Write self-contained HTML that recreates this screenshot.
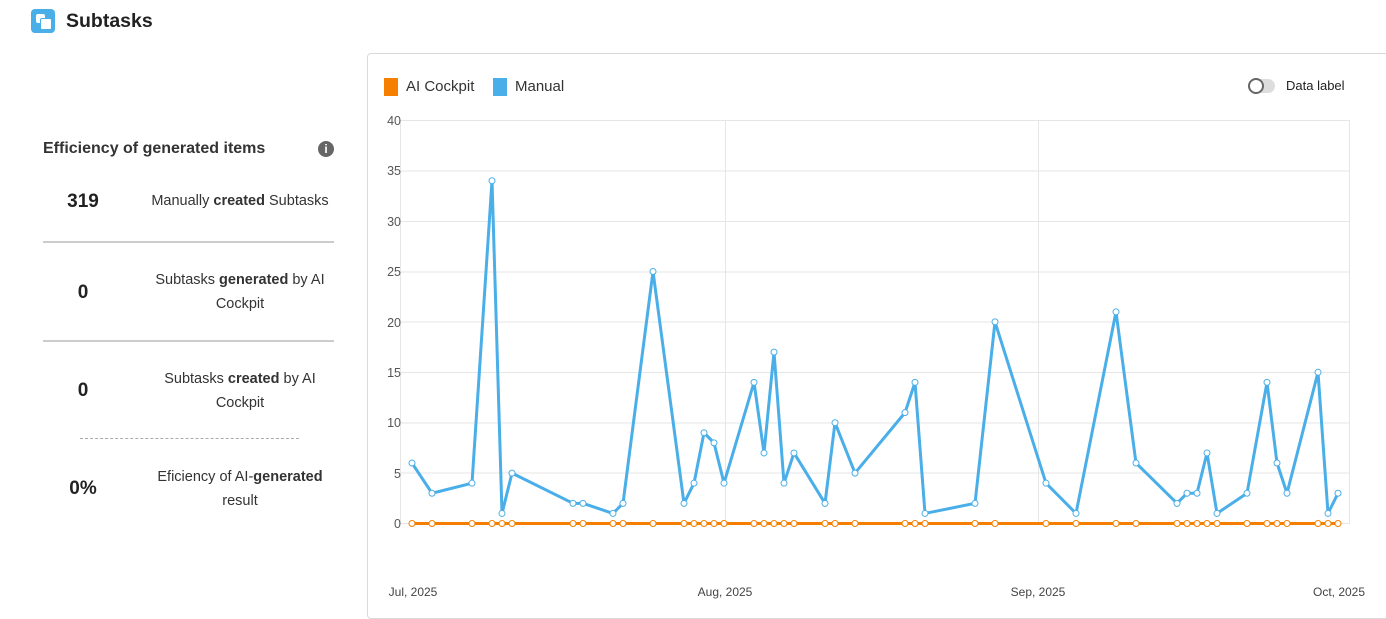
<!DOCTYPE html>
<html><head><meta charset="utf-8"><style>
body{margin:0;width:1386px;height:619px;background:#fff;font-family:"Liberation Sans",sans-serif;position:relative;overflow:hidden;color:#222}
.abs{position:absolute}
.card{left:367px;top:53px;width:1030px;height:564px;border:1px solid #d9d9d9;border-radius:4px}
.num{position:absolute;width:80px;text-align:center;font-size:19px;font-weight:bold;color:#222}
.lbl{position:absolute;width:190px;text-align:center;font-size:14.5px;line-height:24px;color:#333}
.hr{position:absolute;left:43px;width:291px;height:0;border-top:2px solid #ccc}
</style></head><body>
<div class="abs" style="left:31px;top:9px;width:24px;height:24px;background:#4aaee8;border-radius:4px"></div>
<div class="abs" style="left:36px;top:14px;width:9px;height:9px;background:#fff;border-radius:2px"></div>
<div class="abs" style="left:40px;top:18px;width:10px;height:10px;background:#fff;border:1px solid #4aaee8;border-radius:2px"></div>
<div class="abs" style="left:66px;top:10px;font-size:19.5px;font-weight:bold;color:#222">Subtasks</div>

<div class="abs" style="left:43px;top:140px;font-size:16px;font-weight:bold;color:#333">Efficiency of generated items</div>
<div class="abs" style="left:318px;top:141px;width:16px;height:16px;border-radius:50%;background:#666;color:#fff;font-size:12px;font-weight:bold;text-align:center;line-height:16px">i</div>

<div class="num" style="left:43px;top:191px">319</div>
<div class="lbl" style="left:145px;top:189px">Manually <b>created</b> Subtasks</div>
<div class="hr" style="top:241px"></div>
<div class="num" style="left:43px;top:282px">0</div>
<div class="lbl" style="left:145px;top:268px">Subtasks <b>generated</b> by AI Cockpit</div>
<div class="hr" style="top:340px"></div>
<div class="num" style="left:43px;top:380px">0</div>
<div class="lbl" style="left:145px;top:367px">Subtasks <b>created</b> by AI Cockpit</div>
<div class="abs" style="left:80px;top:438px;width:219px;border-top:1px dashed #aaa"></div>
<div class="num" style="left:43px;top:478px">0%</div>
<div class="lbl" style="left:145px;top:465px">Eficiency of AI-<b>generated</b> result</div>

<div class="abs card"></div>
<div class="abs" style="left:384px;top:78px;width:14px;height:18px;background:#f77f00"></div>
<div class="abs" style="left:406px;top:78px;font-size:15px;color:#333">AI Cockpit</div>
<div class="abs" style="left:493px;top:78px;width:14px;height:18px;background:#4aaee8"></div>
<div class="abs" style="left:515px;top:78px;font-size:15px;color:#333">Manual</div>
<div class="abs" style="left:1249px;top:79px;width:26px;height:14px;background:#ddd;border-radius:7px"></div>
<div class="abs" style="left:1248px;top:78px;width:12px;height:12px;border:2px solid #666;background:#fff;border-radius:50%"></div>
<div class="abs" style="left:1286px;top:78px;font-size:13px;color:#222">Data label</div>

<svg class="abs" style="left:0;top:0" width="1386" height="619">
<g stroke="#e6e6e6" stroke-width="1">
<line x1="400" y1="120.5" x2="1350" y2="120.5"/><line x1="400" y1="171" x2="1350" y2="171"/>
<line x1="400" y1="221.5" x2="1350" y2="221.5"/><line x1="400" y1="272" x2="1350" y2="272"/>
<line x1="400" y1="322" x2="1350" y2="322"/><line x1="400" y1="372.5" x2="1350" y2="372.5"/>
<line x1="400" y1="423" x2="1350" y2="423"/><line x1="400" y1="473" x2="1350" y2="473"/>
<line x1="400" y1="523.5" x2="1350" y2="523.5"/>
<line x1="400.5" y1="120" x2="400.5" y2="523"/><line x1="725.5" y1="120" x2="725.5" y2="523"/>
<line x1="1038.5" y1="120" x2="1038.5" y2="523"/><line x1="1349.5" y1="120" x2="1349.5" y2="523"/>
</g>
<g font-size="12.5" fill="#555" text-anchor="end" font-family="Liberation Sans">
<text x="401" y="125">40</text><text x="401" y="175">35</text><text x="401" y="226">30</text>
<text x="401" y="276">25</text><text x="401" y="327">20</text><text x="401" y="377">15</text>
<text x="401" y="427">10</text><text x="401" y="478">5</text><text x="401" y="528">0</text>
</g>
<g font-size="12" fill="#444" text-anchor="middle" font-family="Liberation Sans">
<text x="413" y="596">Jul, 2025</text><text x="725" y="596">Aug, 2025</text>
<text x="1038" y="596">Sep, 2025</text><text x="1339" y="596">Oct, 2025</text>
</g>
<g id="s"></g>
</svg>
<script>
var d=[[412,6],[432,3],[472,4],[492,34],[502,1],[512,5],[573,2],[583,2],[613,1],[623,2],[653,25],[684,2],[694,4],[704,9],[714,8],[724,4],[754,14],[764,7],[774,17],[784,4],[794,7],[825,2],[835,10],[855,5],[905,11],[915,14],[925,1],[975,2],[995,20],[1046,4],[1076,1],[1116,21],[1136,6],[1177,2],[1187,3],[1197,3],[1207,7],[1217,1],[1247,3],[1267,14],[1277,6],[1287,3],[1318,15],[1328,1],[1338,3]];
function Y(v){return 523.5-v*10.08}
var s='',p1=d.map(function(a){return a[0]+','+Y(a[1])}).join(' ');
s+='<polyline points="'+p1+'" fill="none" stroke="#4aaee8" stroke-width="3" stroke-linejoin="round"/>';
s+='<line x1="412" y1="523.5" x2="1338" y2="523.5" stroke="#f77f00" stroke-width="3"/>';
d.forEach(function(a){s+='<circle cx="'+a[0]+'" cy="'+Y(a[1])+'" r="3" fill="#fff" stroke="#4aaee8" stroke-width="1"/>';});
d.forEach(function(a){s+='<circle cx="'+a[0]+'" cy="523.5" r="3" fill="#fff" stroke="#f77f00" stroke-width="1"/>';});
document.getElementById('s').innerHTML=s;
</script>
</body></html>
